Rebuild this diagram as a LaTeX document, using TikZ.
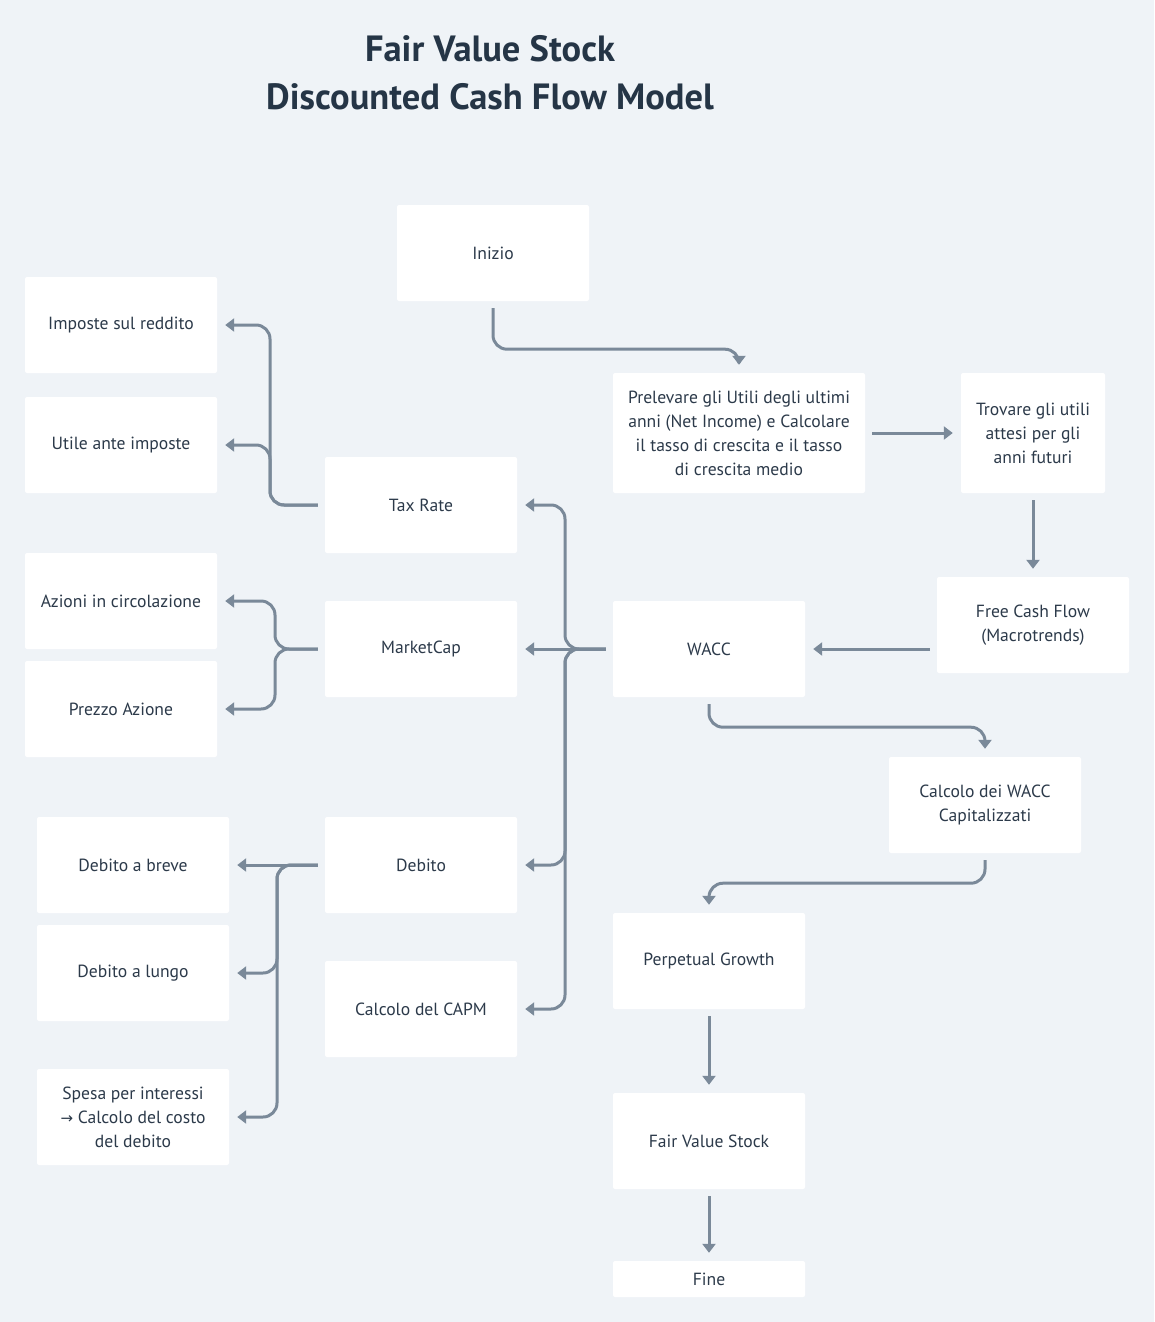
\documentclass[tikz,border=0pt]{standalone}
\usepackage{fontspec}
\setmainfont{PT Sans}
\newfontfamily\arrowfont{DejaVu Sans}
\usetikzlibrary{arrows.meta}
\definecolor{bgcol}{HTML}{EFF3F7}
\definecolor{linecol}{HTML}{7A8999}
\definecolor{txtcol}{HTML}{2C3A4A}
\definecolor{titlecol}{HTML}{253546}

\begin{document}
\begin{tikzpicture}[x=1pt,y=-1pt]
	\tikzstyle{box} = [fill=white,rounded corners=2pt,text=txtcol,align=center,inner sep=0pt,minimum width=192pt,minimum height=96pt,font=\fontsize{17.6}{24}\selectfont]
	\tikzstyle{flow} = [draw=linecol,line width=3pt,rounded corners=14pt,-{Triangle[length=9pt,width=13pt]},shorten <=7pt,shorten >=8pt]

	\fill[bgcol] (0,0) rectangle (1154,1322);
	\useasboundingbox (0,0) rectangle (1154,1322);

	\node[font=\fontsize{36.5}{48}\selectfont\bfseries,text=titlecol,align=center] (title) at (490,73) {Fair Value Stock\\Discounted Cash Flow Model};

	% main flow
	\node[box] (inizio) at (493,253) {Inizio};
	\node[box,minimum width=252pt,minimum height=120pt] (prel) at (739,433) {Prelevare gli Utili degli ultimi\\anni (Net Income) e Calcolare\\il tasso di crescita e il tasso\\di crescita medio};
	\node[box,minimum width=144pt,minimum height=120pt] (trov) at (1033,433) {Trovare gli utili\\attesi per gli\\anni futuri};
	\node[box] (fcf) at (1033,625) {Free Cash Flow\\(Macrotrends)};
	\node[box] (wacc) at (709,649) {WACC};
	\node[box] (cwacc) at (985,805) {Calcolo dei WACC\\Capitalizzati};
	\node[box] (perp) at (709,961) {Perpetual Growth};
	\node[box] (fvs) at (709,1141) {Fair Value Stock};
	\node[box,minimum height=36pt] (fine) at (709,1279) {Fine};

	% inputs of the WACC
	\node[box] (tax) at (421,505) {Tax Rate};
	\node[box] (mcap) at (421,649) {MarketCap};
	\node[box] (deb) at (421,865) {Debito};
	\node[box] (capm) at (421,1009) {Calcolo del CAPM};

	\node[box] (imp) at (121,325) {Imposte sul reddito};
	\node[box] (utile) at (121,445) {Utile ante imposte};
	\node[box] (azioni) at (121,601) {Azioni in circolazione};
	\node[box] (prezzo) at (121,709) {Prezzo Azione};
	\node[box] (breve) at (133,865) {Debito a breve};
	\node[box] (lungo) at (133,973) {Debito a lungo};
	\node[box] (spesa) at (133,1117) {Spesa per interessi\\{\arrowfont\fontsize{15}{24}\selectfont →} Calcolo del costo\\del debito};

	\coordinate (wsplit) at (565,649);
	\coordinate (tsplit) at (270,505);
	\coordinate (msplit) at (275,649);
	\coordinate (dsplit) at (277,865);

	\draw[flow] (inizio.south) -- ++(0,48) -| (prel.north);
	\draw[flow] (prel) -- (trov);
	\draw[flow] (trov) -- (fcf);
	\draw[flow] (fcf.west |- wacc) -- (wacc);
	\draw[flow] (wacc.south) -- ++(0,30) -| (cwacc.north);
	\draw[flow] (cwacc.south) -- ++(0,30) -| (perp.north);
	\draw[flow] (perp) -- (fvs);
	\draw[flow] (fvs) -- (fine);

	\draw[flow] (wacc.west) -- (wsplit) |- (tax.east);
	\draw[flow] (wacc.west) -- (mcap.east);
	\draw[flow] (wacc.west) -- (wsplit) |- (deb.east);
	\draw[flow] (wacc.west) -- (wsplit) |- (capm.east);

	\draw[flow] (tax.west) -- (tsplit) |- (imp.east);
	\draw[flow] (tax.west) -- (tsplit) |- (utile.east);
	\draw[flow] (mcap.west) -- (msplit) |- (azioni.east);
	\draw[flow] (mcap.west) -- (msplit) |- (prezzo.east);
	\draw[flow] (deb.west) -- (breve.east);
	\draw[flow] (deb.west) -- (dsplit) |- (lungo.east);
	\draw[flow] (deb.west) -- (dsplit) |- (spesa.east);
\end{tikzpicture}
\end{document}
